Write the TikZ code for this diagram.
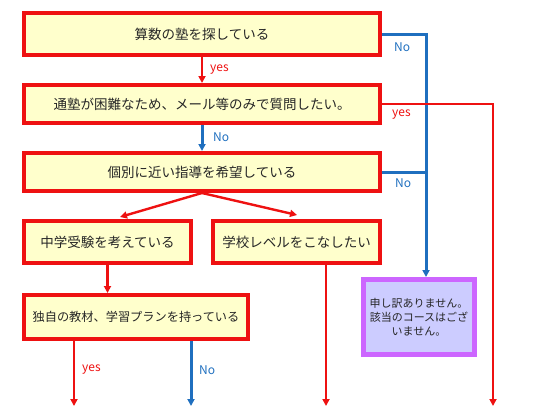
\documentclass[tikz,border=0pt]{standalone}
\usepackage{fontspec}
\setmainfont{Noto Sans CJK JP}
\usetikzlibrary{arrows.meta}
\definecolor{bred}{HTML}{EE1111}
\definecolor{bblue}{HTML}{1F6FBF}
\definecolor{byellow}{HTML}{FFFFCC}
\definecolor{pfill}{HTML}{CCCCFF}
\definecolor{pline}{HTML}{CC66FF}
\definecolor{txt}{HTML}{262626}
\begin{document}
\begin{tikzpicture}[x=1pt,y=-1pt,
  qbox/.style={draw=bred,line width=4pt,fill=byellow,text=txt,inner sep=0pt,
    font=\fontsize{13.5}{16}\selectfont},
  pbox/.style={draw=pline,line width=5pt,fill=pfill,text=txt,inner sep=0pt,align=center,
    font=\fontsize{11}{14}\selectfont},
  redarrow/.style={draw=bred,line width=2.4pt,-{Triangle[length=7pt,width=7pt]}},
  bluearrow/.style={draw=bblue,line width=3pt,-{Triangle[length=7pt,width=7pt]}},
  redline/.style={draw=bred,line width=2.4pt},
  blueline/.style={draw=bblue,line width=3pt},
  lab/.style={font=\fontsize{12}{14}\selectfont,inner sep=0pt,anchor=west},
]
\useasboundingbox (0,0) rectangle (540,407);
% boxes
\node[qbox,minimum width=356pt,minimum height=42pt] (b1) at (202,34) {算数の塾を探している};
\node[qbox,minimum width=356pt,minimum height=38pt] (b2) at (202,104) {通塾が困難なため、メール等のみで質問したい。};
\node[qbox,minimum width=356pt,minimum height=38pt] (b3) at (202,172) {個別に近い指導を希望している};
\node[qbox,minimum width=167pt,minimum height=42pt] (b4) at (107.5,242) {中学受験を考えている};
\node[qbox,minimum width=167pt,minimum height=42pt] (b5) at (296.5,242) {学校レベルをこなしたい};
\node[qbox,minimum width=224pt,minimum height=44pt,font=\fontsize{12.2}{15}\selectfont] (b6) at (136,317) {独自の教材、学習プランを持っている};
\node[pbox,minimum width=111pt,minimum height=75pt] (pt) at (419,317) {申し訳ありません。\\該当のコースはござ\\いません。};
% helper coordinates
\coordinate (bx) at (426,0);
\coordinate (rx) at (493,0);
\coordinate (r5) at (326,0);
\coordinate (y6) at (74,0);
\coordinate (n6) at (191,0);
\coordinate (bot) at (0,406);
% connectors
\draw[redarrow] (b1.south) -- (b2.north);
\node[lab,text=bred] (l1) at (210,70) {yes};
\draw[blueline] (b1.east) -- (b1.east -| bx) -- (bx |- b3.east);
\draw[bluearrow] (bx |- b3.east) -- (bx |- pt.north);
\node[lab,text=bblue] (l2) at (394,47) {No};
\draw[bluearrow] (b2.south) -- (b3.north);
\node[lab,text=bblue] (l3) at (213,137) {No};
\draw[redarrow] (b2.east) -- (b2.east -| rx) -- (rx |- bot);
\node[lab,text=bred] (l4) at (392,115) {yes};
\draw[blueline] (b3.east) -- (b3.east -| bx);
\node[lab,text=bblue] (l5) at (395,183) {No};
\draw[redarrow] (b3.south) -- ([shift={(12.5,-2)}]b4.north);
\draw[redarrow] (b3.south) -- ([shift={(0.5,-4)}]b5.north);
\draw[redarrow] (b4.south) -- (b4.south |- b6.north);
\draw[redarrow] (b5.south -| r5) -- (r5 |- bot);
\draw[redarrow] (b6.south -| y6) -- (y6 |- bot);
\node[lab,text=bred] (l6) at (82,370) {yes};
\draw[bluearrow] (b6.south -| n6) -- (n6 |- bot);
\node[lab,text=bblue] (l7) at (199,370) {No};
\end{tikzpicture}
\end{document}
